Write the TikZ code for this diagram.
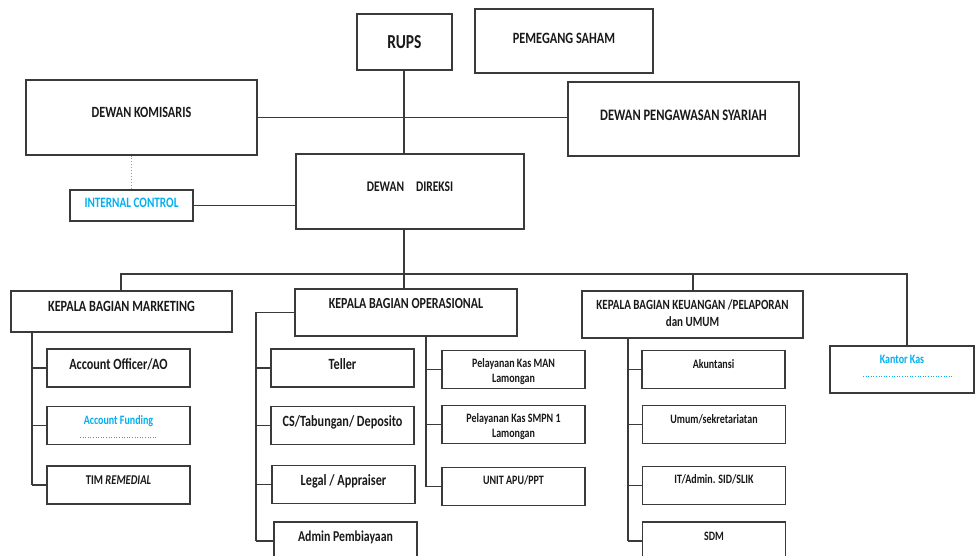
\documentclass[tikz,border=0pt]{standalone}
\usepackage{fontspec}
\setmainfont{Carlito}
\usetikzlibrary{calc}
\definecolor{lineclr}{RGB}{58,58,58}
\definecolor{txtclr}{RGB}{25,25,25}
\definecolor{skyblue}{RGB}{0,176,240}
\begin{document}
\begin{tikzpicture}[x=1pt,y=-1pt,
  box/.style 2 args={draw=lineclr, line width=1.2pt, minimum width=#1, minimum height=#2, inner sep=0pt},
  sub/.style={box={143}{38}},
  wire/.style={draw=lineclr, line width=1.1pt},
  dotwire/.style={draw=gray!80, line width=1pt, dotted},
  blueline/.style={draw=skyblue, line width=0.6pt, dotted},
  lbl/.style={inner sep=0pt, text=txtclr, yscale=1.28, font=\bfseries\fontsize{#1}{#1}\selectfont},
  bluelbl/.style={lbl=#1, text=skyblue}]
\fill[white] (0,0) rectangle (976,555);
\clip (0,0) rectangle (976,555);

% upper management boxes
\node[box={95}{56}]  (rups)      at (404.5,42)   {};
\node[box={178}{64}] (saham)     at (564,41)     {};
\node[box={231}{75}] (komisaris) at (141.5,117.5) {};
\node[box={231}{74}] (syariah)   at (683.5,119)  {};
\node[box={228}{75}] (direksi)   at (410,191.5)  {};
\node[box={123}{31}] (ic)        at (131.5,205.5) {};

% department heads
\node[box={221}{41}] (kbm) at (121.5,311.5) {};
\node[box={222}{47}] (kbo) at (406,312.5)   {};
\node[box={221}{47}] (kbk) at (692.5,314.5) {};
\node[box={144}{47}] (kas) at (902,369.5)   {};

% marketing units
\node[sub] (ao)  at (118.5,368)   {};
\node[sub] (af)  at (118.5,425.5) {};
\node[sub] (tim) at (118.5,485)   {};

% operational units
\node[sub] (teller) at (342.5,368)   {};
\node[sub] (cs)     at (342.5,425.5) {};
\node[sub] (legal)  at (343.5,484.5) {};
\node[sub] (admin)  at (345.5,541)   {};
\node[sub] (man)    at (513.5,369.5) {};
\node[sub] (smpn)   at (513.5,424.5) {};
\node[sub] (unit)   at (513.5,486.5) {};

% finance units
\node[sub] (aku)  at (713.5,369.5) {};
\node[sub] (umum) at (714,424.5)   {};
\node[sub] (it)   at (714,485.5)   {};
\node[sub] (sdm)  at (714,541)     {};

% rails and junctions
\coordinate (split)   at (404,274);
\coordinate (mktdrop) at (121,274);
\coordinate (keudrop) at (693,274);
\coordinate (kasdrop) at (907,274);
\coordinate (mkrail)  at (32,0);
\coordinate (oprailL) at (256,0);
\coordinate (oprailR) at (426,0);
\coordinate (keurail) at (628,0);

% connectors
\draw[wire] (rups.south -| split) -- (split |- direksi.north);
\draw[wire] (komisaris.east) -- (komisaris.east -| syariah.west);
\draw[dotwire] (ic.north) -- (ic.north |- komisaris.south);
\draw[wire] (ic.east) -- (ic.east -| direksi.west);
\draw[wire] (direksi.south -| split) -- (split |- kbo.north);
\draw[wire] (mktdrop |- kbm.north) -- (mktdrop) -- (kasdrop) -- (kasdrop |- kas.north);
\draw[wire] (keudrop) -- (keudrop |- kbk.north);

\draw[wire] (mkrail |- kbm.south) -- (mkrail |- tim.west);
\foreach \n in {ao,af,tim} \draw[wire] (mkrail |- \n.west) -- (\n.west);

\draw[wire] (kbo.west) -- (kbo.west -| oprailL) -- (oprailL |- admin.west);
\foreach \n in {teller,cs,legal,admin} \draw[wire] (oprailL |- \n.west) -- (\n.west);

\draw[wire] (oprailR |- kbo.south) -- (oprailR |- unit.west);
\foreach \n in {man,smpn,unit} \draw[wire] (oprailR |- \n.west) -- (\n.west);

\draw[wire] (keurail |- kbk.south) -- (keurail |- sdm.west);
\foreach \n in {aku,umum,it,sdm} \draw[wire] (keurail |- \n.west) -- (\n.west);

% labels
\node[lbl=15.5] (rups-t)      at (404.5,42)  {RUPS};
\node[lbl=12.3] (saham-t)     at (564,38)    {PEMEGANG SAHAM};
\node[lbl=12.2] (komisaris-t) at (141.5,112) {DEWAN KOMISARIS};
\node[lbl=12.5] (syariah-t)   at (683.5,115) {DEWAN PENGAWASAN SYARIAH};
\node[lbl=11.5] (direksi-t)   at (410,187)   {DEWAN\hspace{12pt}DIREKSI};
\node[bluelbl=11.2] (ic-t)    at (131.5,203) {INTERNAL CONTROL};

\node[lbl=12.2] (kbm-t)  at (121.5,306) {KEPALA BAGIAN MARKETING};
\node[lbl=12]   (kbo-t)  at (406,304)   {KEPALA BAGIAN OPERASIONAL};
\node[lbl=11]   (kbk-t1) at (692.5,305) {KEPALA BAGIAN KEUANGAN /PELAPORAN};
\node[lbl=11]   (kbk-t2) at (692.5,322) {dan UMUM};
\node[bluelbl=10] (kas-t) at (902,359)  {Kantor Kas};
\draw[blueline] ($(kas.center)+(-39,6.5)$) -- ($(kas.center)+(52,6.5)$);

\node[lbl=12.2] (ao-t)  at (118.5,364) {Account Officer/AO};
\node[bluelbl=10] (af-t) at (118.5,421) {Account Funding};
\draw[blueline] ($(af.center)+(-38.5,11.5)$) -- ($(af.center)+(38.5,11.5)$);
\node[lbl=10.5] (tim-t) at (118.5,480) {TIM \textit{REMEDIAL}};

\node[lbl=12.2] (teller-t) at (342.5,364) {Teller};
\node[lbl=12.2] (cs-t)     at (342.5,422) {CS/Tabungan/ Deposito};
\node[lbl=12.2] (legal-t)  at (343.5,481) {Legal / Appraiser};
\node[lbl=11.8] (admin-t)  at (345.5,537) {Admin Pembiayaan};

\node[lbl=10] (man-t1)  at (513.5,364) {Pelayanan Kas MAN};
\node[lbl=10] (man-t2)  at (513.5,379) {Lamongan};
\node[lbl=10] (smpn-t1) at (513.5,419) {Pelayanan Kas SMPN 1};
\node[lbl=10] (smpn-t2) at (513.5,434) {Lamongan};
\node[lbl=10] (unit-t)  at (513.5,480) {UNIT APU/PPT};

\node[lbl=10] (aku-t)  at (713.5,364) {Akuntansi};
\node[lbl=10] (umum-t) at (714,419)   {Umum/sekretariatan};
\node[lbl=10] (it-t)   at (714,479)   {IT/Admin. SID/SLIK};
\node[lbl=10] (sdm-t)  at (714,536)   {SDM};
\end{tikzpicture}
\end{document}
